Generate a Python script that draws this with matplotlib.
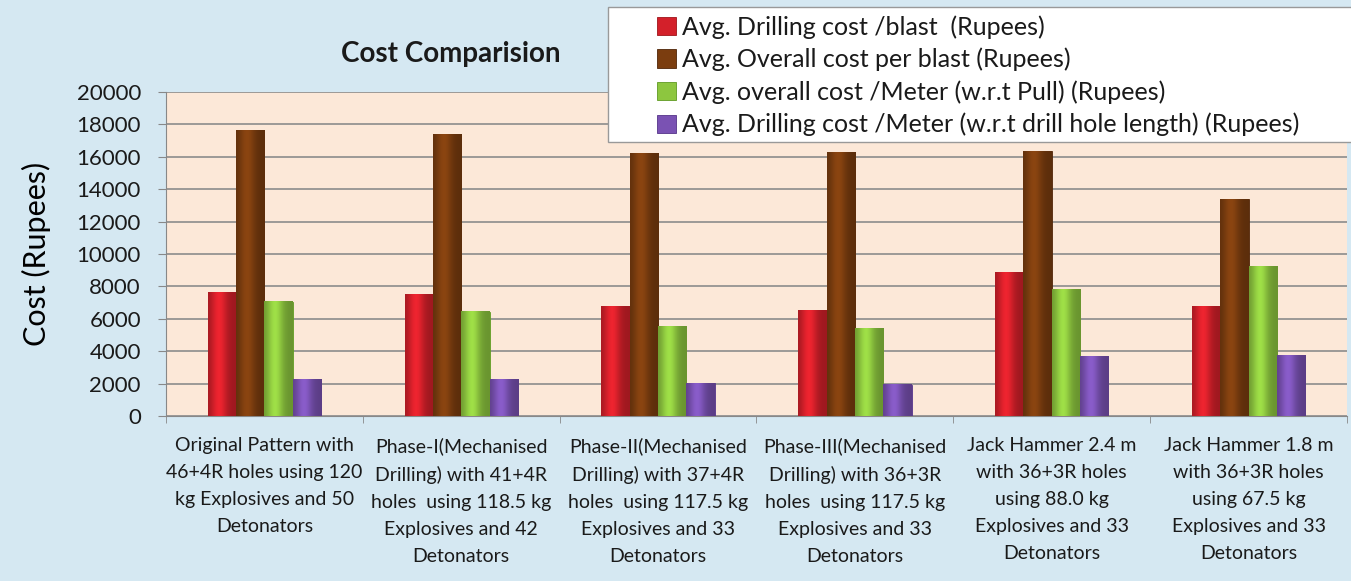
import numpy as np
import matplotlib.pyplot as plt
from matplotlib.colors import to_rgb
from matplotlib.patches import Rectangle

# category labels (x axis)
categories = [
    "Original Pattern with\n46+4R holes using 120\nkg Explosives and 50\nDetonators",
    "Phase-I(Mechanised\nDrilling) with 41+4R\nholes  using 118.5 kg\nExplosives and 42\nDetonators",
    "Phase-II(Mechanised\nDrilling) with 37+4R\nholes  using 117.5 kg\nExplosives and 33\nDetonators",
    "Phase-III(Mechanised\nDrilling) with 36+3R\nholes  using 117.5 kg\nExplosives and 33\nDetonators",
    "Jack Hammer 2.4 m\nwith 36+3R holes\nusing 88.0 kg\nExplosives and 33\nDetonators",
    "Jack Hammer 1.8 m\nwith 36+3R holes\nusing 67.5 kg\nExplosives and 33\nDetonators",
]

series_names = [
    "Avg. Drilling cost /blast  (Rupees)",
    "Avg. Overall cost per blast (Rupees)",
    "Avg. overall cost /Meter (w.r.t Pull) (Rupees)",
    "Avg. Drilling cost /Meter (w.r.t drill hole length) (Rupees)",
]

drill_cost_blast = [7630, 7470, 6730, 6520, 8870, 6730]
overall_cost_blast = [17600, 17400, 16200, 16250, 16330, 13370]
overall_cost_meter = [7040, 6420, 5530, 5390, 7800, 9240]
drill_cost_meter = [2270, 2230, 2020, 1920, 3670, 3710]

colors = ["#d3202a", "#7b3d0f", "#8dc63f", "#7a52b3"]
edges = ["#9e1419", "#4f2508", "#5f9a22", "#553489"]

plt.rcParams['font.family'] = ['Lato', 'DejaVu Sans']
plt.rcParams['text.color'] = '#1a1a1a'

fig = plt.figure(figsize=(13.51, 5.81), dpi=100)
fig.patch.set_facecolor("#d5e8f2")
# plot area: x 166..1347 px, y 92..416 px
ax = fig.add_axes([166 / 1351, 1 - 416 / 581, 1181 / 1351, 324 / 581])
ax.set_facecolor("#fce8d8")


def shade(color, n=40):
    # cylinder-like shading across the bar width
    t = np.linspace(0, 1, n)
    f = 0.75 + 0.38 * np.exp(-((t - 0.38) / 0.28) ** 2)
    rgb = np.clip(np.outer(f, to_rgb(color)), 0, 1)
    return rgb[np.newaxis, :, :]


x = np.arange(len(categories))
w = 0.144
data = [drill_cost_blast, overall_cost_blast, overall_cost_meter, drill_cost_meter]
for i, vals in enumerate(data):
    bars = ax.bar(x + (i - 1.5) * w, vals, w, color=colors[i], edgecolor=edges[i],
                  linewidth=0.6, label=series_names[i], zorder=3)
    for b in bars:
        x0, bw, bh = b.get_x(), b.get_width(), b.get_height()
        ax.imshow(shade(colors[i]), extent=(x0, x0 + bw, 0, bh), aspect='auto',
                  interpolation='bilinear', zorder=3.5)

ax.set_xlim(-0.5, 5.465)
ax.set_ylim(0, 20000)
ax.set_yticks(np.arange(0, 20001, 2000))
ax.yaxis.grid(True, color="#8c8c8c", linewidth=1.2, zorder=0)
ax.tick_params(axis='y', labelsize=16, length=6, pad=12, color="#888888",
               labelcolor="#1a1a1a")
ax.set_xticks(x)
ax.set_xticklabels(categories, fontsize=14, linespacing=1.72, color="#1a1a1a")
ax.tick_params(axis='x', length=0, pad=15)
# small ticks at category boundaries
ax.set_xticks(np.arange(-0.5, len(categories), 1), minor=True)
ax.tick_params(axis='x', which='minor', length=5, color="#888888")
for s in ['top', 'right']:
    ax.spines[s].set_visible(False)
ax.spines['left'].set_color("#888888")
ax.spines['bottom'].set_color("#888888")

ax.set_ylabel("Cost (Rupees)", fontsize=22, labelpad=18)
fig.text(451 / 1351, 1 - 54 / 581, "Cost Comparision", fontsize=20, fontweight='bold',
         ha='center', va='center')

# legend box drawn separately, entries placed inside
fig.patches.append(Rectangle((608 / 1351, 1 - 142 / 581), 745 / 1351, 135 / 581,
                             transform=fig.transFigure, facecolor="white",
                             edgecolor="#999999", linewidth=1.0, zorder=5))
leg = fig.legend(loc='upper left', bbox_to_anchor=(652 / 1351, 1 - 10 / 581),
                 fontsize=18, frameon=False, handlelength=0.75, handleheight=0.75,
                 handletextpad=0.25, labelspacing=0.36, borderpad=0.2,
                 borderaxespad=0)
leg.set_zorder(6)

fig.savefig("out.png", dpi=100, facecolor=fig.get_facecolor())
